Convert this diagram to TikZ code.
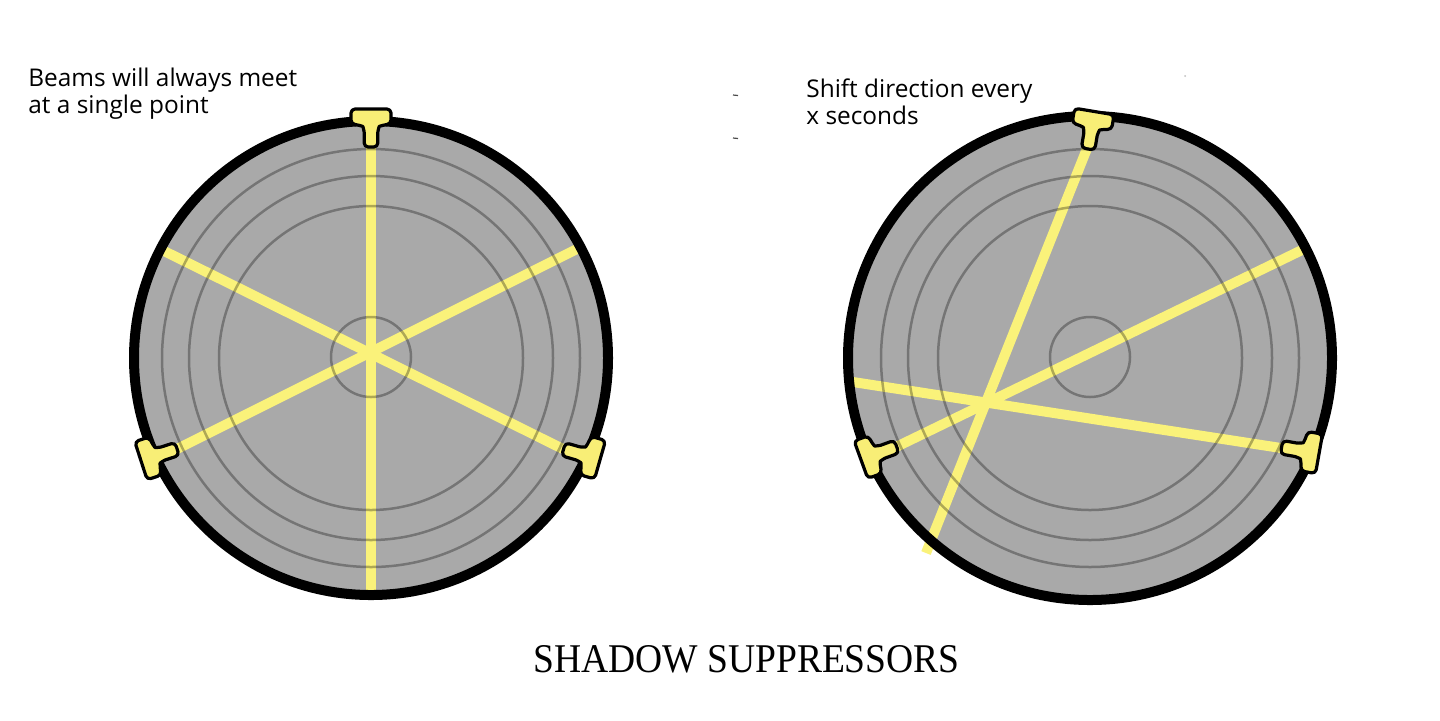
\documentclass[tikz,border=0pt]{standalone}
\usepackage{fontspec}
\newfontfamily\labelfont{Open Sans}
\newfontfamily\titlefont{Liberation Serif}
\definecolor{discgray}{RGB}{169,169,169}
\definecolor{beamyellow}{RGB}{250,242,122}
\definecolor{emityellow}{RGB}{248,238,118}
\tikzset{
  disc/.style={fill=discgray},
  rim/.style={draw=black,line width=5pt},
  ring/.style={draw=black,draw opacity=0.3,line width=1.25pt},
  beam/.style={draw=beamyellow,line width=5pt},
  emitter/.pic={
    \draw[fill=emityellow,draw=black,line width=1.6pt,rounded corners=2pt,line join=round]
      (-20,1) -- (20,1) -- (20,16) -- (12,17)
      .. controls (8,18.5) and (6.8,23.5) .. (6.8,28.5) -- (6.8,39) -- (-6.8,39) -- (-6.8,28.5)
      .. controls (-6.8,23.5) and (-8,18.5) .. (-12,17) -- (-20,16) -- cycle;
  },
  lbl/.style={font=\labelfont\fontsize{12.2}{13.5}\selectfont,anchor=base west,inner sep=0pt,align=left}
}
\begin{document}
\begin{tikzpicture}[x=0.5pt,y=-0.5pt]
\useasboundingbox[fill=white] (0,0) rectangle (1440,720);
% ---------- left disc ----------
\coordinate (LC) at (371,358);
\fill[disc] (LC) circle [radius=237];
\coordinate (LtopS) at (371,146);
\coordinate (LbotE) at (371,597);
\coordinate (LulE) at (158,248);
\coordinate (LlrS) at (563,449);
\coordinate (LurE) at (583,246);
\coordinate (LllS) at (177,449);
\draw[beam] (LtopS) -- (LbotE);
\draw[beam] (LulE) -- (LlrS);
\draw[beam] (LurE) -- (LllS);
\foreach \r in {209,182,152}{\draw[ring] (LC) circle [radius=\r];}
\draw[ring] (371,357) circle [radius=40];
\draw[rim] (LC) circle [radius=237];
\pic at (371,108) {emitter};
\pic[rotate=108] at (140,461) {emitter};
\pic[rotate=254] at (601,460) {emitter};
% ---------- right disc ----------
\coordinate (RC) at (1090,358);
\fill[disc] (RC) circle [radius=242];
\coordinate (RtopS) at (1088,146);
\coordinate (RaE) at (926,553);
\coordinate (RllS) at (896,447);
\coordinate (RbE) at (1302,250);
\coordinate (RlrS) at (1281,448);
\coordinate (RcE) at (853,382);
\draw[beam] (RtopS) -- (RaE);
\draw[beam] (RllS) -- (RbE);
\draw[beam] (RlrS) -- (RcE);
\foreach \r in {209,182,152}{\draw[ring] (RC) circle [radius=\r];}
\draw[ring] (1090,357) circle [radius=40];
\draw[rim] (RC) circle [radius=242];
\pic[rotate=-9.5] at (1094.5,110.5) {emitter};
\pic[rotate=110] at (860,460) {emitter};
\pic[rotate=260] at (1320,454) {emitter};
% ---------- texts ----------
\node[lbl] (t1) at (28,113) {Beams will always meet\\at a single point};
\node[lbl] (t2) at (806,124) {Shift direction every\\x seconds};
\node[font=\titlefont\fontsize{20.4}{22}\selectfont,anchor=base,inner sep=0pt] (title) at (746.5,672) {\scalebox{0.92}[1]{SHADOW SUPPRESSORS}};
% tiny marks
\draw[black!70,line width=0.6pt] (733,95) -- (738,95.5);
\draw[black!70,line width=0.6pt] (733,138) -- (738,138.5);
\fill[black!25] (1185,76) circle [radius=1];
\end{tikzpicture}
\end{document}
